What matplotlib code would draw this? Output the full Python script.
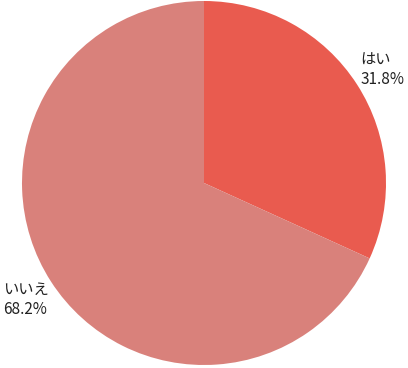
import numpy as np
import matplotlib
matplotlib.use("Agg")
import matplotlib.pyplot as plt

plt.rcParams['font.family'] = ['Noto Sans CJK JP', 'DejaVu Sans']

labels = ["はい", "いいえ"]
values = [31.8, 68.2]
colors = ["#E95B4F", "#D9817B"]

W, H = 408, 368
fig = plt.figure(figsize=(W / 100, H / 100), dpi=100)
# pie centre ~ (204, 183) px, radius ~ 182 px
cx, cy, r = 204, 183, 182
ax = fig.add_axes([(cx - r) / W, 1 - (cy + r) / H, 2 * r / W, 2 * r / H])

wedges, _ = ax.pie(values, colors=colors, startangle=90, counterclock=False,
                   radius=1, wedgeprops={'linewidth': 0})
ax.set_xlim(-1, 1)
ax.set_ylim(-1, 1)
ax.set_aspect('equal')
ax.axis('off')

for w, lab, v in zip(wedges, labels, values):
    ang = np.deg2rad((w.theta1 + w.theta2) / 2)
    x, y = 1.165 * np.cos(ang), 1.165 * np.sin(ang) - 0.01
    ax.text(x, y, f"{lab}\n{v:.1f}%", ha='center', va='center', multialignment='left',
            fontsize=11, color='#222222', linespacing=1.2, clip_on=False)

fig.savefig("out.png", dpi=100)
